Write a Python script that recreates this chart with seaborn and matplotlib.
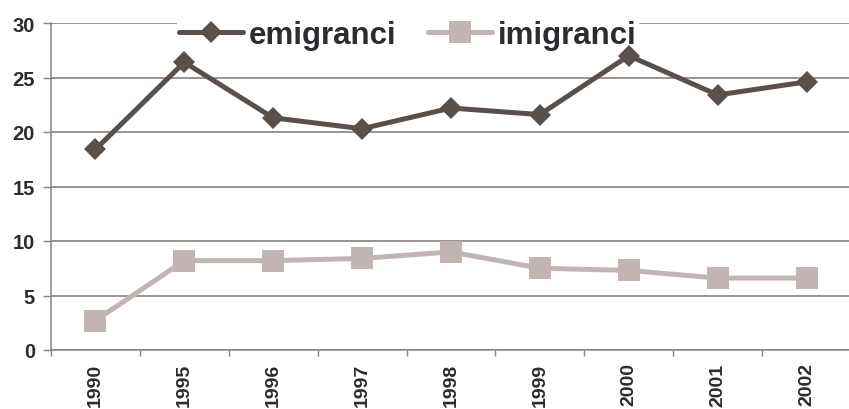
import matplotlib
matplotlib.use("Agg")
import matplotlib.pyplot as plt
import seaborn as sns
import pandas as pd
import numpy as np

years = ["1990", "1995", "1996", "1997", "1998", "1999", "2000", "2001", "2002"]
emigranci = [18.4, 26.4, 21.3, 20.3, 22.2, 21.6, 27.0, 23.4, 24.6]
imigranci = [2.7, 8.2, 8.2, 8.4, 9.0, 7.5, 7.3, 6.6, 6.6]
series_names = ["emigranci", "imigranci"]
y_ticks = [0, 5, 10, 15, 20, 25, 30]

sns.set_theme(style="white")
plt.rcParams["font.family"] = ["Liberation Sans", "DejaVu Sans"]

df = pd.DataFrame({
    "rok": list(range(len(years))) * 2,
    "wartosc": emigranci + imigranci,
    "seria": [series_names[0]] * len(years) + [series_names[1]] * len(years),
})

colors = {"emigranci": "#5a504b", "imigranci": "#c0b5b2"}
text_color = "#2b2b30"
axis_color = "#8a8482"

fig = plt.figure(figsize=(8.49, 4.10), dpi=100)
ax = fig.add_axes([51 / 849, 59 / 410, 800 / 849, 327 / 410])

for name, marker, ms in [("emigranci", "D", 11.0), ("imigranci", "s", 15.5)]:
    sub = df[df["seria"] == name]
    sns.lineplot(data=sub, x="rok", y="wartosc", ax=ax, color=colors[name],
                 marker=marker, markersize=ms, markeredgewidth=0,
                 linewidth=3.6, label=name, zorder=3)

ax.set_xlim(-0.5, len(years) - 0.5)
ax.set_ylim(0, 30)
ax.set_yticks(y_ticks)
ax.set_yticklabels([str(v) for v in y_ticks], fontsize=14.5, fontweight="bold", color=text_color)
ax.set_xticks(range(len(years)))
ax.set_xticklabels(years, rotation=90, fontsize=14, fontweight="bold", color=text_color)
ax.set_xticks(np.arange(-0.5, len(years), 1.0), minor=True)
ax.tick_params(axis="x", which="major", length=0, pad=9)
ax.tick_params(axis="x", which="minor", length=4, width=1, color=axis_color, direction="out", bottom=True)
ax.tick_params(axis="y", which="major", length=5.5, width=1, color=axis_color, left=True, pad=6)
ax.set_xlabel("")
ax.set_ylabel("")

ax.grid(axis="y", color="#7d7674", linewidth=1.1, zorder=0)
ax.set_axisbelow(True)
for side in ["top", "right"]:
    ax.spines[side].set_visible(False)
for side in ["left", "bottom"]:
    ax.spines[side].set_color(axis_color)
    ax.spines[side].set_linewidth(1.1)

leg = ax.legend(loc="center", bbox_to_anchor=(0.446, 0.963), ncol=2, frameon=True,
                prop={"weight": "bold", "size": 22.5}, handlelength=2.05,
                handletextpad=0.2, columnspacing=1.0, borderpad=0.05,
                fancybox=False, framealpha=1.0)
leg.get_frame().set_facecolor("white")
leg.get_frame().set_edgecolor("white")
for t in leg.get_texts():
    t.set_color(text_color)
# legend sits above the gridlines but under the data lines
leg.set_zorder(2)

fig.savefig("out.png", dpi=100)
